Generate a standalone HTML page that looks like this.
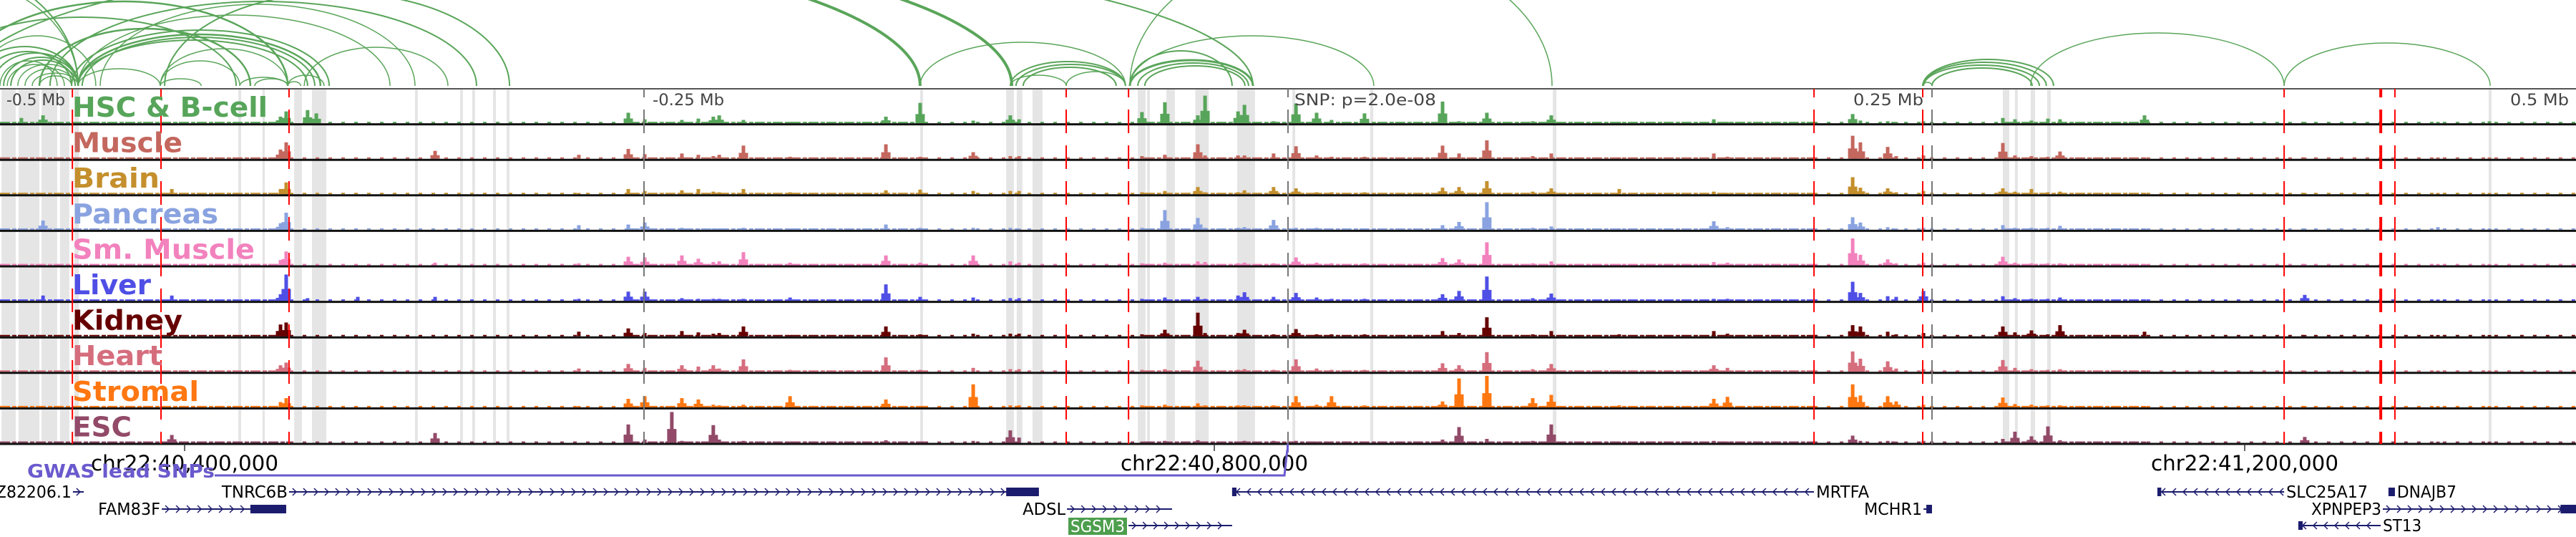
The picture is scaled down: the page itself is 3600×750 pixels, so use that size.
<!DOCTYPE html>
<html><head><meta charset="utf-8"><style>
html,body{margin:0;padding:0;background:#fff;}
svg{display:block;}
text{font-family:"DejaVu Sans","Liberation Sans",sans-serif;}
</style></head><body>
<svg id="chart" xmlns="http://www.w3.org/2000/svg" width="3600" height="750" viewBox="0 0 3600 750">
<g id="bands"></g>
<g id="arcs"></g>
<g id="tracks"></g>
<g id="overlay"></g>
<g id="labels"></g>
<g id="ruler"></g>
<g id="genes"></g>
</svg>
<script>
// ---- data (positions in kb relative to lead SNP) ----
const trackNames = ["HSC & B-cell","Muscle","Brain","Pancreas","Sm. Muscle","Liver","Kidney","Heart","Stromal","ESC"];
const trackColors = ["#57a55a","#c4675e","#c48f2c","#8aa3e0","#f282bd","#4f4fe6","#660000","#d56d7d","#ff7711","#924a68"];
const labelWidths = [273,154,122,204,255,110,154,126,177,83];
const peakPos = [-491.7,-483.3,-433.3,-391.1,-388.9,-380.6,-377.2,-361.1,-331.1,-275.3,-256.1,-249.7,-239.2,-235.3,-228.9,-223.1,-220.8,-211.4,-193.3,-156.1,-142.8,-122.2,-107.8,-104.4,-56.7,-47.8,-35,-32.2,-19.4,-16.9,-5.6,3.1,11.1,16.9,29.7,60,66.4,77.2,95,102.2,128.6,165.3,170.6,219.2,222.2,232.8,236.1,246.7,277.5,282.2,288.6,295,299.7,332.5,394.7,446.4,466.4];
const hscVals     = [8,12,0,10,18,20,15,0,0,0,16,6,0,5,7,10,12,5,2,10,31,4,12,6,17,32,12,42,18,28,3,30,16,5,15,33,3,16,3,12,2,6,2,14,4,3,2,3,8,6,4,7,6,12,2,2,3];
const muscleVals  = [0,0,0,14,25,0,0,0,12,6,15,7,0,8,6,4,6,20,3,22,3,10,4,4,4,6,22,5,5,5,8,19,5,3,3,20,8,28,4,8,2,8,3,35,25,18,4,5,24,5,4,3,11,2,2,2,2];
const brainVals   = [0,0,8,8,18,0,0,0,0,2,8,5,0,6,8,4,3,8,3,6,7,5,5,5,3,5,11,3,3,6,11,9,3,3,3,10,11,20,4,9,8,4,2,26,10,9,3,5,9,4,8,3,4,2,2,2,2];
const pancVals    = [0,14,0,10,26,0,0,0,0,7,8,11,0,3,2,2,2,3,2,8,3,3,3,2,3,30,18,3,3,4,15,3,3,2,2,7,12,42,3,5,2,13,4,19,11,4,2,3,7,3,3,3,6,2,2,4,2];
const smVals      = [0,0,0,8,21,0,0,0,4,3,13,12,0,15,10,5,6,20,4,15,4,15,6,4,3,4,6,5,3,4,3,12,4,3,3,11,9,35,3,6,2,5,4,41,16,9,3,4,13,4,3,3,3,2,2,2,2];
const liverVals   = [0,8,8,10,40,4,0,6,6,3,14,14,0,4,3,3,3,3,5,25,6,5,4,4,3,5,6,3,8,13,6,12,5,3,3,10,15,37,4,11,2,3,3,29,12,7,6,15,7,4,3,3,5,2,9,2,2];
const kidneyVals  = [0,0,0,18,21,0,0,0,0,7,12,5,0,8,6,4,5,15,2,15,3,4,4,4,3,10,36,5,5,10,3,11,3,3,3,8,5,29,3,8,3,8,4,17,15,7,3,5,15,6,9,3,17,7,2,2,2];
const heartVals   = [0,0,0,10,14,0,0,0,0,5,12,6,0,10,8,10,5,19,3,22,3,6,4,4,3,4,17,3,3,4,3,19,5,3,3,13,10,30,4,12,2,10,6,31,20,16,5,4,18,6,4,3,4,2,2,2,2];
const stromalVals = [0,0,0,8,14,0,0,0,0,2,13,17,0,14,12,4,3,4,17,12,2,35,3,3,3,4,6,3,3,3,3,17,4,17,3,9,44,48,14,19,3,13,16,35,18,17,9,4,15,5,4,3,3,2,2,2,2];
const escVals     = [0,0,12,0,0,0,0,0,15,0,28,5,47,3,2,27,5,3,2,4,2,3,19,8,2,3,4,2,2,3,3,3,2,2,2,5,24,6,3,28,2,3,2,11,3,3,2,3,6,17,10,25,4,2,9,2,2];
const trackVals = [hscVals,muscleVals,brainVals,pancVals,smVals,liverVals,kidneyVals,heartVals,stromalVals,escVals];
// background coverage segments [startKb, endKb], solid vs sparse
const bgStart = [-500,-387.5,-255.6,-141.1,-55.6,204.2,277.8,333.3];
const bgEnd   = [-387.5,-255.6,-141.1,-55.6,204.2,277.8,333.3,500];
const bgSolid = [1,0,1,0,1,0,1,0];
// grey highlight bands [startKb,endKb]
const bandStart = [-499.4,-492.8,-483.9,-476.7,-471.1,-407.5,-398.1,-385.8,-378.9,-338.9,-321.4,-316.7,-308.6,-303.3,-142.8,-109.4,-105.3,-99.2,-58.3,-54.7,-47.2,-36,-19.7,1.7,31.9,102.8,277.5,282.2,288.3,294.7,466.1];
const bandEnd   = [-493.9,-484.7,-477.8,-473.1,-469.4,-406.4,-397.2,-382.8,-373.3,-337.8,-320.3,-315.6,-307.5,-302.2,-141.7,-106.4,-103.1,-95.3,-55.3,-53.6,-43.9,-30.8,-12.8,2.8,33.1,104.2,280,283.3,290,296.1,467.2];
// red GWAS variant lines
const variantPos = [-471.9,-437.5,-387.8,-86.1,-61.9,204.2,246.4,386.7,424.2,429.7];
const variantWidth = [2,2,2,2,2,2,2,2,4,2];
// loop arcs
const arcStart = [-502.8,-498.6,-495.8,-506.9,-493.1,-490.3,-487.5,-500,-497.2,-511.1,-484.7,-583.3,-569.4,-469.7,-468.1,-469.7,-472.2,-515.8,-527.8,-508.3,-469.7,-480.6,-461.1,-436.1,-484.7,-381.9,-469.7,-437.8,-437.8,-406.9,-401.1,-388.3,-388.3,-437.8,
  -587.2,-551.7,-513.6,-142.8,-61.4,-61.4,-61.4,-61.4,-58.3,-55.6,-107.8,-105.6,-102.8,-107.8,-86.1,
  246.4,246.4,246.7,250,246.4,288.3,386.7];
const arcEnd   = [-469.7,-469.7,-470.8,-472.2,-469.7,-470.8,-469.7,-477.8,-475,-469.7,-472.2,-469.7,-469.7,-375.6,-377.8,-380.6,-372.2,-388.3,-408.3,-462.8,-348.6,-315,-338.9,-302.2,-402.8,-326.1,-437.8,-421.9,-406.9,-388.3,-388.3,-374.2,-383.3,-388.3,
  -142.8,-107.2,-13.6,-63.1,102.5,33.3,-21.7,-13.6,-15.3,-16.7,-63.1,-63.1,-66.7,-86.1,-63.1,
  297.2,294.4,291.7,288.9,250,386.7,466.7];
const arcHeight= [46,40,36,48,30,24,18,35,30,55,14,170,150,72,68,64,78,118,96,70,99,118,114,130,80,54,24,10,35,12,10,15,6,52,
  205,205,189,61,200,70,49,36,32,28,34,30,26,15,20,
  37,33,29,25,5,74,60];
const arcWidth = [2,2,2,2,1.5,1.5,1.5,1.5,1.5,2,1.5,2,1.5,2.5,2,2,2,2.5,2,1.5,1.5,2,1.5,2,2.5,1.5,1.5,1.5,1.5,1.5,1.5,1.5,1.5,1.5,
  4,4,2,1.5,1.5,1.5,2,3,2,2,2,2,2,1.5,1.5,
  2,2,2,2,1.5,1.5,1.5];
// genes
const geneNames = ["Z82206.1","TNRC6B","MRTFA","SLC25A17","DNAJB7","FAM83F","ADSL","MCHR1","XPNPEP3","SGSM3","ST13"];
const geneStart = [-471.7,-387.8,-21.7,337.5,427.2,-437.2,-85.8,246.7,425,-61.9,392.2];
const geneEnd   = [-467.5,-96.7,204.2,386.7,429.7,-388.9,-45,250,500,-21.7,424.2];
const geneStrand= [1,1,-1,-1,1,1,1,1,1,1,-1];
const geneRow   = [0,0,0,0,0,1,1,1,1,2,2];
const exonStart = [null,-109.4,-21.7,337.5,427.2,-402.8,null,247.8,494,null,392.2];
const exonEnd   = [null,-96.7,-20,339,429.7,-388.9,null,250,500,null,393.9];
const geneLabelSide=[-1,-1,1,1,1,-1,-1,-1,-1,-1,1];
const labelTextW = [106,92,74,114,83,87,60,81,98,0,54];
const rulerLabels = ["-0.5 Mb","-0.25 Mb","SNP: p=2.0e-08","0.25 Mb","0.5 Mb"];
const rulerKb = [-500,-250,0,250,500];
const coordLabels = ["chr22:40,400,000","chr22:40,800,000","chr22:41,200,000"];
const coordPx = [258,1697,3137];

// ---- scales ----
const NS="http://www.w3.org/2000/svg";
const X0=0, PXKB=3.6;
function xs(kb){return X0+(kb+500)*PXKB;}
const TOP=124, TH=49.6;
function ts(v){return v/48*44;}
function mk(tag,attrs,parent){const e=document.createElementNS(NS,tag);for(const k in attrs)e.setAttribute(k,attrs[k]);parent.appendChild(e);return e;}
const G=id=>document.getElementById(id);

// bands
for(let i=0;i<bandStart.length;i++){
  const r=mk('rect',{x:xs(bandStart[i]),y:TOP,width:Math.max(2,xs(bandEnd[i])-xs(bandStart[i])),height:TH*10,fill:'#e5e5e5'},G('bands'));
  
  
}
// arcs
const ARCBASE=120;
for(let i=0;i<arcStart.length;i++){
  const a=xs(arcStart[i]),b=xs(arcEnd[i]),rx=(b-a)/2,ry=arcHeight[i];
  const p=mk('path',{d:`M${a},${ARCBASE} A${rx},${ry} 0 0 1 ${b},${ARCBASE}`,fill:'none',stroke:'#5aa55a','stroke-width':arcWidth[i]},G('arcs'));
  
  
}
// tracks
for(let t=0;t<10;t++){
  const g=mk('g',{},G('tracks'));
  
  
  const base=TOP+TH*(t+1)-1.5, col=trackColors[t];
  for(let s=0;s<bgStart.length;s++){
    const l=mk('line',{x1:xs(bgStart[s]),x2:xs(bgEnd[s]),y1:base-1,y2:base-1,stroke:col,'stroke-width':2},g);
    l.setAttribute('stroke-dasharray', bgSolid[s] ? '14 3 6 2' : '5 13');
    
    
  }
  const vals=trackVals[t];
  for(let i=0;i<peakPos.length;i++){
    const v=vals[i]; if(!v) continue;
    const h=ts(v), x=xs(peakPos[i]);
    const r=mk('rect',{x:x-2.5,y:base-h,width:5,height:h,fill:col},g);
    
    
    if(v>8){
      const r2=mk('rect',{x:x-6.5,y:base-h*0.45,width:13,height:h*0.45,fill:col},g);
      
      
    }
  }
}
// track borders
for(let t=0;t<=10;t++){
  const y=TOP+TH*t;
  const l=mk('line',{x1:0,x2:3600,y1:y,y2:y,stroke:t==0?'#555':'#111','stroke-width':t==0?2:3},G('overlay'));
  
  
}
// ruler tick lines
for(let i=1;i<4;i++){
  const l=mk('line',{x1:xs(rulerKb[i]),x2:xs(rulerKb[i]),y1:TOP,y2:TOP+TH*10,stroke:'#777','stroke-width':2,'stroke-dasharray':'33 17','stroke-dashoffset':21},G('overlay'));
  
  
}
// variant lines
for(let i=0;i<variantPos.length;i++){
  const l=mk('line',{x1:xs(variantPos[i]),x2:xs(variantPos[i]),y1:TOP,y2:TOP+TH*10,stroke:'#ff0000','stroke-width':variantWidth[i],'stroke-dasharray':'33 17','stroke-dashoffset':21},G('overlay'));
  
  
}
// labels
for(let t=0;t<10;t++){
  const tx=mk('text',{x:101,y:TOP+TH*t+39,'font-size':38,'font-weight':'bold',fill:trackColors[t],textLength:labelWidths[t],lengthAdjust:'spacingAndGlyphs'},G('labels'));
  tx.textContent=trackNames[t];
  
  
}
// ruler labels
const rlx=[9,912,1809,2590,3508], rlw=[82,100,198,98,82];
for(let i=0;i<rulerLabels.length;i++){
  const tx=mk('text',{x:rlx[i],y:147,'font-size':22,fill:'#444',textLength:rlw[i],lengthAdjust:'spacingAndGlyphs'},G('ruler'));
  tx.textContent=rulerLabels[i];
  
  
}
// coordinate axis
for(let i=0;i<coordLabels.length;i++){
  const l=mk('line',{x1:coordPx[i],x2:coordPx[i],y1:620,y2:630,stroke:'#333','stroke-width':1.5},G('ruler'));
  
  
  const tx=mk('text',{x:coordPx[i],y:657,'font-size':29,fill:'#000','text-anchor':'middle',textLength:262,lengthAdjust:'spacingAndGlyphs'},G('ruler'));
  tx.textContent=coordLabels[i];
  
  
}
// GWAS track
const gw=mk('path',{d:`M300,664 L1795,664 L1799,628`,fill:'none',stroke:'#6a5acd','stroke-width':3},G('genes'));


const gm=mk('rect',{x:1798,y:620,width:3,height:12,fill:'#6a5acd'},G('genes'));


const gt=mk('text',{x:38,y:667,'font-size':26,'font-weight':'bold',fill:'#6a5acd',textLength:262,lengthAdjust:'spacingAndGlyphs'},G('genes'));
gt.textContent='GWAS lead SNPs';


// genes
const rowY=[687,711,734];
const NAVY='#1c1c6e';
for(let i=0;i<geneNames.length;i++){
  const g=mk('g',{},G('genes'));
  
  
  const y=rowY[geneRow[i]], a=xs(geneStart[i]), b=xs(geneEnd[i]);
  mk('line',{x1:a,x2:b,y1:y,y2:y,stroke:NAVY,'stroke-width':2},g);
  let d='';
  for(let x=a+8;x<b-4;x+=15){
    d+= geneStrand[i]>0 ? `M${x-3},${y-5}L${x+2},${y}L${x-3},${y+5}` : `M${x+3},${y-5}L${x-2},${y}L${x+3},${y+5}`;
  }
  mk('path',{d:d,fill:'none',stroke:NAVY,'stroke-width':1.5},g);
  if(exonStart[i]!==null){
    mk('rect',{x:xs(exonStart[i]),y:y-6,width:Math.max(4,xs(exonEnd[i])-xs(exonStart[i])),height:12,fill:NAVY},g);
  }
  if(geneNames[i]==='SGSM3'){
    mk('rect',{x:1493,y:723,width:82,height:24,fill:'#4d9e4d'},g);
    const tx=mk('text',{x:1534,y:743,'font-size':23,fill:'#fff','text-anchor':'middle',textLength:76,lengthAdjust:'spacingAndGlyphs'},g);
    tx.textContent='SGSM3';
  } else {
    const side=geneLabelSide[i];
    const tx=mk('text',{x: side<0 ? a-2 : b+3, y:y+8,'font-size':23,fill:'#000','text-anchor': side<0?'end':'start',textLength:labelTextW[i],lengthAdjust:'spacingAndGlyphs'},g);
    tx.textContent=geneNames[i];
  }
}
</script>
</body></html>
